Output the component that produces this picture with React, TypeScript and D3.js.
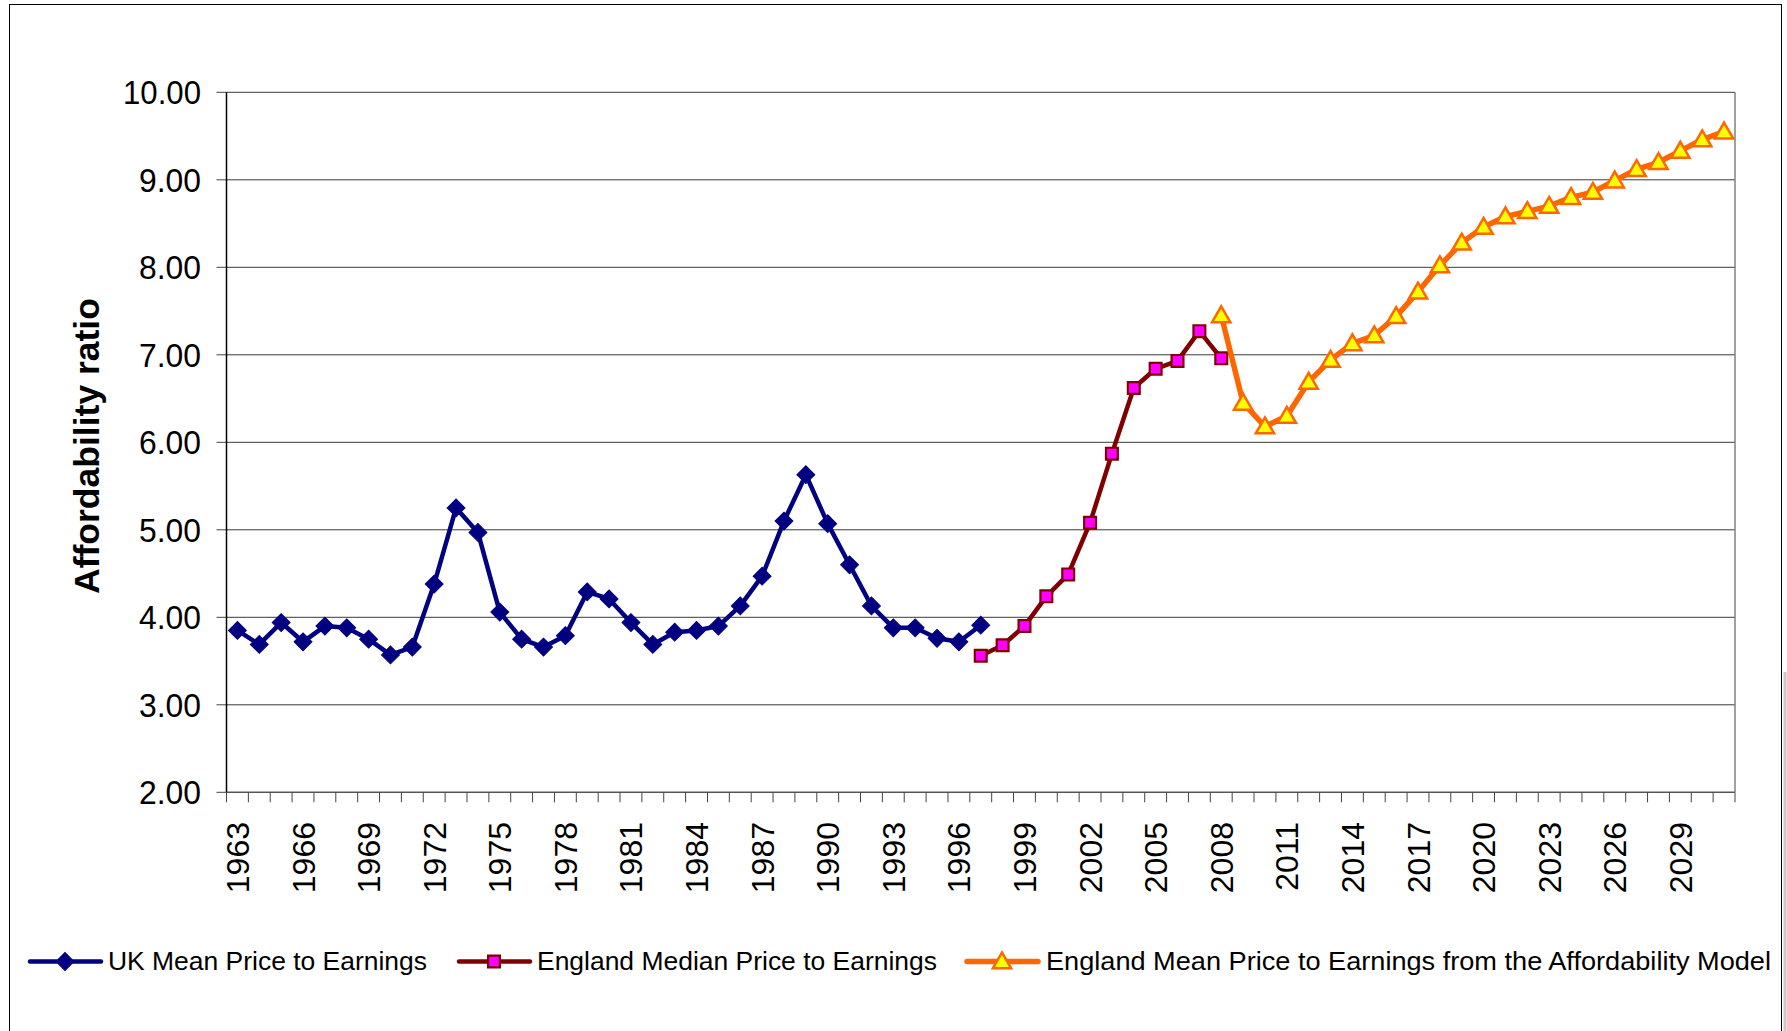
import React from 'react';
import * as d3 from 'd3';

// categories: one per year on the x axis
const years = d3.range(1963, 2032).map(String);

// UK mean price to earnings, 1963-1997
const ukMeanYears = d3.range(1963, 1998).map(String);
const ukMean = [
  3.85, 3.69, 3.94, 3.72, 3.9, 3.88, 3.75, 3.57, 3.66,
  4.38, 5.25, 4.97, 4.06, 3.75, 3.66, 3.79, 4.29, 4.21, 3.94,
  3.69, 3.83, 3.85, 3.9, 4.13, 4.47, 5.1, 5.63, 5.07, 4.6,
  4.13, 3.88, 3.88, 3.76, 3.72, 3.91,
];

// England median price to earnings, 1997-2008
const medianYears = d3.range(1997, 2009).map(String);
const englandMedian = [3.56, 3.68, 3.9, 4.24, 4.49, 5.08, 5.87, 6.62, 6.84, 6.93, 7.27, 6.96];

// England mean from the affordability model, 2008-2031
const modelYears = d3.range(2008, 2032).map(String);
const modelMean = [
  7.45, 6.45, 6.18, 6.3, 6.69, 6.94, 7.13, 7.22, 7.44, 7.72, 8.02, 8.28,
  8.46, 8.58, 8.64, 8.7, 8.8, 8.86, 8.99, 9.12, 9.2, 9.33, 9.46, 9.55,
];

const yTicks = [2, 3, 4, 5, 6, 7, 8, 9, 10];

const legendLabels = [
  'UK Mean Price to Earnings',
  'England Median Price to Earnings',
  'England Mean Price to Earnings from the Affordability Model',
];

const FONT = '"Liberation Sans", Arial, sans-serif';

const W = 1787;
const H = 1031;
const plot = { left: 226.5, right: 1735, top: 92.3, bottom: 792.3 };

const x = d3.scaleBand<string>().domain(years).range([plot.left, plot.right]);
const y = d3.scaleLinear().domain([2, 10]).range([plot.bottom, plot.top]);
const cx = (yr: string) => (x(yr) as number) + x.bandwidth() / 2;

const diamond = d3.symbol().type(d3.symbolSquare).size(160)();
const square = d3.symbol().type(d3.symbolSquare).size(140)();
const triangle = d3.symbol().type(d3.symbolTriangle).size(145)();

const lineOf = (cats: string[], vals: number[]) =>
  d3.line<number>()
    .x((_, i) => cx(cats[i]))
    .y((d) => y(d))(vals) as string;

const series = [
  { name: legendLabels[0], cats: ukMeanYears, vals: ukMean, stroke: '#000080', width: 4.5, marker: 'diamond', fill: '#000080', mstroke: '#000080' },
  { name: legendLabels[1], cats: medianYears, vals: englandMedian, stroke: '#800000', width: 4.5, marker: 'square', fill: '#FF00FF', mstroke: '#800000' },
  { name: legendLabels[2], cats: modelYears, vals: modelMean, stroke: '#FF6600', width: 5.5, marker: 'triangle', fill: '#FFFF00', mstroke: '#FF6600' },
];

const Marker = ({ kind, fill, stroke, tx, ty }: any) => {
  if (kind === 'diamond') {
    return <path d={diamond} transform={`translate(${tx},${ty}) rotate(45)`} fill={fill} stroke={stroke} strokeWidth={1} />;
  }
  if (kind === 'square') {
    return <path d={square} transform={`translate(${tx},${ty})`} fill={fill} stroke={stroke} strokeWidth={2.2} />;
  }
  return <path d={triangle} transform={`translate(${tx},${ty + 1.5})`} fill={fill} stroke={stroke} strokeWidth={2.5} strokeLinejoin="miter" />;
};

// legend layout: line start, text start, text width
const legendPos = [
  { x0: 30, tx: 108, tw: 319 },
  { x0: 459, tx: 537, tw: 400 },
  { x0: 967, tx: 1046, tw: 725 },
];

export default function App() {
  const bw = x.bandwidth();
  return (
    <svg
      width={W}
      height={H}
      style={{ position: 'absolute', left: 0, top: 0, background: '#fff' }}
      fontFamily={FONT}
    >
      <rect x={0} y={0} width={W} height={H} fill="#fff" />
      {/* chart frame */}
      <rect x={9.5} y={4.5} width={1772} height={1040} fill="none" stroke="#000" strokeWidth={1} />
      <line x1={1785} x2={1785} y1={672} y2={H} stroke="#c8c8c8" strokeWidth={3} />

      {/* gridlines + y axis */}
      {yTicks.map((t) => (
        <g key={t}>
          <line x1={plot.left} x2={plot.right} y1={y(t)} y2={y(t)} stroke={t === 2 ? '#555' : '#3a3a3a'} strokeWidth={t === 2 ? 1.5 : 1} />
          <line x1={plot.left - 10} x2={plot.left} y1={y(t)} y2={y(t)} stroke="#444" strokeWidth={1} />
          <text x={201} y={y(t)} dy="0.36em" textAnchor="end" fontSize={33} fill="#000" textLength={t === 10 ? 78 : 62} lengthAdjust="spacingAndGlyphs">
            {d3.format('.2f')(t)}
          </text>
        </g>
      ))}
      <line x1={plot.right} x2={plot.right} y1={plot.top} y2={plot.bottom} stroke="#808080" strokeWidth={1.5} />
      <line x1={plot.left} x2={plot.left} y1={plot.top} y2={plot.bottom} stroke="#000" strokeWidth={1.5} />

      {/* x axis ticks and labels */}
      {d3.range(years.length + 1).map((i) => (
        <line key={i} x1={plot.left + i * bw} x2={plot.left + i * bw} y1={plot.bottom} y2={plot.bottom + 10} stroke="#444" strokeWidth={1} />
      ))}
      {years.filter((yr) => (+yr - 1963) % 3 === 0).map((yr) => (
        <text
          key={yr}
          transform={`translate(${cx(yr)},822) rotate(-90)`}
          dy="0.36em"
          textAnchor="end"
          fontSize={32}
          fill="#000"
        >
          {yr}
        </text>
      ))}

      {/* y axis title */}
      <text transform="translate(86,446) rotate(-90)" dy="0.36em" textAnchor="middle" fontSize={35.5} fontWeight="bold" fill="#000">
        Affordability ratio
      </text>

      {/* series */}
      {series.map((s) => (
        <g key={s.name}>
          <path d={lineOf(s.cats, s.vals)} fill="none" stroke={s.stroke} strokeWidth={s.width} strokeLinejoin="round" />
          {s.vals.map((v, i) => (
            <Marker key={i} kind={s.marker} fill={s.fill} stroke={s.mstroke} tx={cx(s.cats[i])} ty={y(v)} />
          ))}
        </g>
      ))}

      {/* legend */}
      {series.map((s, i) => {
        const p = legendPos[i];
        return (
          <g key={s.name}>
            <line x1={p.x0} x2={p.x0 + 71} y1={961.5} y2={961.5} stroke={s.stroke} strokeWidth={s.width} strokeLinecap="round" />
            <Marker kind={s.marker} fill={s.fill} stroke={s.mstroke} tx={p.x0 + 35} ty={961.5} />
            <text x={p.tx} y={969.5} fontSize={26} fill="#000" textLength={p.tw} lengthAdjust="spacingAndGlyphs">
              {s.name}
            </text>
          </g>
        );
      })}
    </svg>
  );
}
